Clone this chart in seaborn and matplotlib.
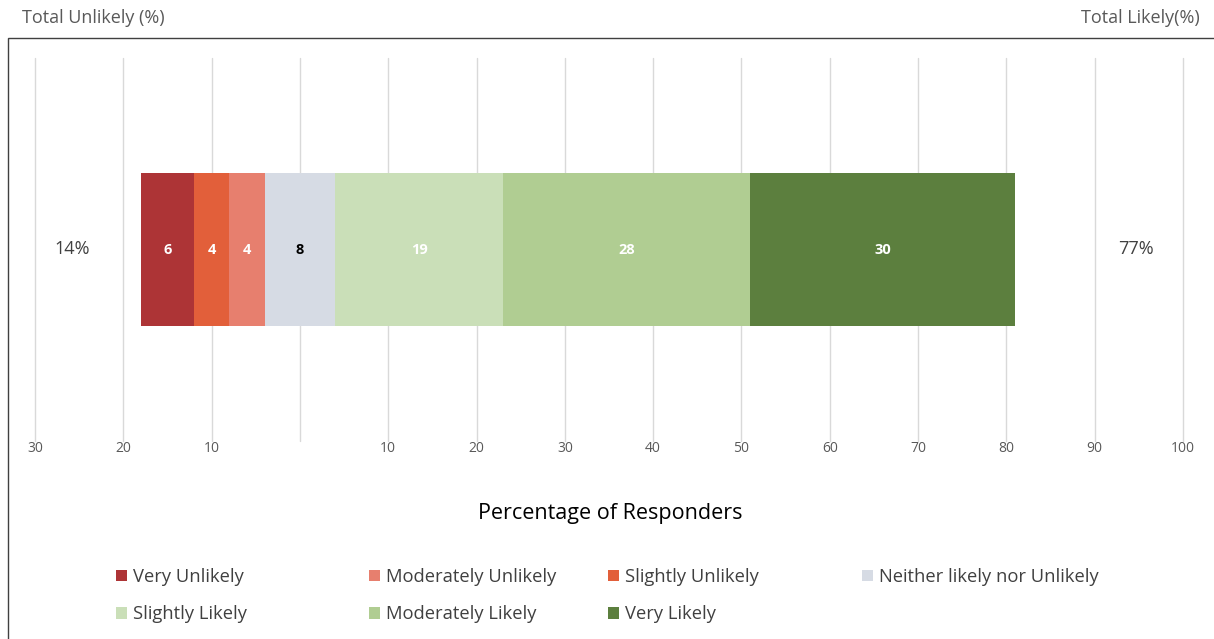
import numpy as np
import pandas as pd
import seaborn as sns
import matplotlib.pyplot as plt
from matplotlib.patches import Patch, Rectangle

# data, in the order the segments sit in the bar (left to right)
segments = ["Very Unlikely", "Slightly Unlikely", "Moderately Unlikely",
            "Neither likely nor Unlikely", "Slightly Likely", "Moderately Likely", "Very Likely"]
values = [6, 4, 4, 8, 19, 28, 30]
colors = ["#AD3436", "#E25F3A", "#E77F6E", "#D6DBE4", "#CADFB8", "#B0CD92", "#5C7F3E"]
label_colors = ["white", "white", "white", "black", "white", "white", "white"]
tick_values = [-30, -20, -10, 0, 10, 20, 30, 40, 50, 60, 70, 80, 90, 100]
tick_labels = ["30", "20", "10", "", "10", "20", "30", "40", "50", "60", "70", "80", "90", "100"]
total_unlikely = "14%"
total_likely = "77%"

# legend order (row by row as in the picture)
legend_rows = [["Very Unlikely", "Moderately Unlikely", "Slightly Unlikely", "Neither likely nor Unlikely"],
               ["Slightly Likely", "Moderately Likely", "Very Likely"]]

sns.set_style("white")
plt.rcParams['font.family'] = ['Open Sans', 'DejaVu Sans']

W, H = 1214, 639
fig = plt.figure(figsize=(W / 100, H / 100), dpi=100)
ax = fig.add_axes([35 / W, 1 - 441 / H, (1183 - 35) / W, (441 - 58) / H])

# diverging: neutral split around 0
vals = np.array(values, dtype=float)
start = -(vals[:3].sum() + vals[3] / 2)
rights = start + np.cumsum(vals)
lefts = rights - vals

# overlay bars from 0 outwards, outermost first
df_row = "q"
for i in range(len(vals)):
    if lefts[i] < 0:
        sns.barplot(x=[lefts[i]], y=[df_row], orient="h", color=colors[i], width=0.4,
                    saturation=1, errorbar=None, linewidth=0, ax=ax)
for i in reversed(range(len(vals))):
    if rights[i] > 0:
        sns.barplot(x=[rights[i]], y=[df_row], orient="h", color=colors[i], width=0.4,
                    saturation=1, errorbar=None, linewidth=0, ax=ax)

for i in range(len(vals)):
    ax.text((lefts[i] + rights[i]) / 2, 0, str(values[i]), ha="center", va="center",
            color=label_colors[i], fontsize=10.5, fontweight="bold")

ax.set_xlim(-30, 100)
ax.set_ylim(0.5, -0.5)
ax.set_xticks(tick_values)
ax.set_xticklabels(tick_labels)
ax.set_yticks([])
ax.set_ylabel("")
ax.set_xlabel("")
ax.tick_params(axis="x", length=0, pad=0, labelsize=10, labelcolor="#595959")
ax.grid(axis="x", color="#D9D9D9", linewidth=1)
for gl in ax.get_xgridlines():
    gl.set_clip_on(False)
ax.set_axisbelow(True)
for s in ax.spines.values():
    s.set_visible(False)

# side totals
ax.text(-25.8, 0, total_unlikely, ha="center", va="center", fontsize=13, color="#404040")
ax.text(94.7, 0, total_likely, ha="center", va="center", fontsize=13, color="#404040")

fig.text(610 / W, 1 - 513 / H, "Percentage of Responders", ha="center", va="center",
         fontsize=15.5, color="black")
fig.text(22 / W, 1 - 18 / H, "Total Unlikely (%)", ha="left", va="center", fontsize=13, color="#595959")
fig.text(1200 / W, 1 - 18 / H, "Total Likely(%)", ha="right", va="center", fontsize=13, color="#595959")

# frame around the chart area
fig.patches.append(Rectangle((8 / W, -0.05), 1.0, 1 - 38 / H + 0.05, transform=fig.transFigure,
                             fill=False, edgecolor="#404040", linewidth=1))

# legend, one small legend per column so the columns sit at fixed places
color_of = dict(zip(segments, colors))
col_x = [116, 369, 608, 862]
for c in range(4):
    names = [row[c] for row in legend_rows if c < len(row)]
    handles = [Patch(facecolor=color_of[n], edgecolor="none", label=n) for n in names]
    fig.legend(handles=handles, loc="upper left", bbox_to_anchor=(col_x[c] / W, 1 - 568 / H),
               frameon=False, fontsize=13.2, handlelength=0.6, handleheight=0.6,
               handletextpad=0.35, labelspacing=1.05, borderaxespad=0, borderpad=0,
               labelcolor="#404040")

fig.savefig("out.png", dpi=100)
